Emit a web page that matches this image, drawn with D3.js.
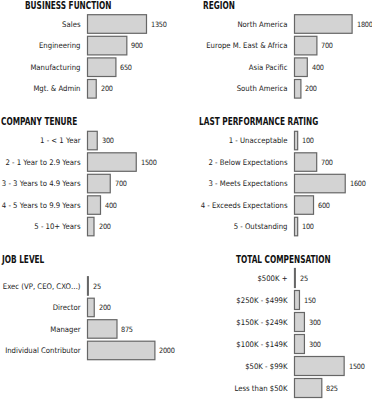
<!DOCTYPE html>
<html>
<head>
<meta charset="utf-8">
<script src="https://d3js.org/d3.v7.min.js"></script>
<style>
  body { margin: 0; background: #fff; }
  svg { display: block; }
  .title { font-family: "DejaVu Sans Condensed", "DejaVu Sans", sans-serif; font-stretch: condensed; font-weight: bold; font-size: 10px; fill: #111; }
  .cat { font-family: "DejaVu Sans Condensed", "DejaVu Sans", sans-serif; font-stretch: condensed; font-size: 7.7px; fill: #222; }
  .val { font-family: "DejaVu Sans Condensed", "DejaVu Sans", sans-serif; font-stretch: condensed; font-size: 7.3px; letter-spacing: -0.3px; fill: #222; -webkit-font-smoothing: antialiased; }
  .bar { fill: #d3d3d3; stroke: #666; stroke-width: 1.2; }
</style>
</head>
<body>
<svg width="372" height="400"></svg>
<script>
// ---- data ----
const businessLabels = ["Sales", "Engineering", "Manufacturing", "Mgt. & Admin"];
const businessValues = [1350, 900, 650, 200];

const regionLabels = ["North America", "Europe M. East & Africa", "Asia Pacific", "South America"];
const regionValues = [1800, 700, 400, 200];

const tenureLabels = ["1 - < 1 Year", "2 - 1 Year to 2.9 Years", "3 - 3 Years to 4.9 Years", "4 - 5 Years to 9.9 Years", "5 - 10+ Years"];
const tenureValues = [300, 1500, 700, 400, 200];

const ratingLabels = ["1 - Unacceptable", "2 - Below Expectations", "3 - Meets Expectations", "4 - Exceeds Expectations", "5 - Outstanding"];
const ratingValues = [100, 700, 1600, 600, 100];

const jobLabels = ["Exec (VP, CEO, CXO\u2026)", "Director", "Manager", "Individual Contributor"];
const jobValues = [25, 200, 875, 2000];

const compLabels = ["$500K +", "$250K - $499K", "$150K - $249K", "$100K - $149K", "$50K - $99K", "Less than $50K"];
const compValues = [25, 150, 300, 300, 1500, 825];

// ---- layout: one entry per small chart ----
const panels = [
  { title: "BUSINESS FUNCTION", labels: businessLabels, values: businessValues,
    tx: 25, ty: 8.5, x0: 87.5, top: 14.7, step: 21.6, w2000: 87.4 },
  { title: "REGION", labels: regionLabels, values: regionValues,
    tx: 203, ty: 8.5, x0: 294.5, top: 14.7, step: 21.6, w2000: 64 },
  { title: "COMPANY TENURE", labels: tenureLabels, values: tenureValues,
    tx: 1, ty: 125, x0: 87.5, top: 131.3, step: 21.5, w2000: 65 },
  { title: "LAST PERFORMANCE RATING", labels: ratingLabels, values: ratingValues,
    tx: 199, ty: 125, x0: 294.5, top: 131.3, step: 21.5, w2000: 63.4 },
  { title: "JOB LEVEL", labels: jobLabels, values: jobValues,
    tx: 2, ty: 263, x0: 87.5, top: 276.7, step: 21.5, w2000: 67.4 },
  { title: "TOTAL COMPENSATION", labels: compLabels, values: compValues,
    tx: 236, ty: 263, x0: 294.5, top: 268.5, step: 22, w2000: 66.2 }
];

const svg = d3.select("svg");
const gap = 3;
const titleSqueeze = 0.82; // reference titles use a very narrow bold face

panels.forEach(function(p) {
  const g = svg.append("g");
  const rows = p.labels.map(function(l, i) { return { label: l, value: p.values[i] }; });

  const x = d3.scaleLinear().domain([0, 2000]).range([p.x0, p.x0 + p.w2000]);
  const y = d3.scaleBand()
      .domain(p.labels)
      .range([p.top, p.top + p.labels.length * p.step - gap])
      .paddingInner(gap / p.step)
      .paddingOuter(0);

  g.append("text")
      .attr("class", "title")
      .attr("transform", "translate(" + p.tx + "," + p.ty + ") scale(" + titleSqueeze + ",1)")
      .text(p.title);

  g.selectAll("rect")
    .data(rows)
    .enter().append("rect")
      .attr("class", "bar")
      .attr("x", x(0))
      .attr("y", function(d) { return y(d.label); })
      .attr("width", function(d) { return Math.max(0.2, x(d.value) - x(0)); })
      .attr("height", y.bandwidth());

  g.selectAll("text.cat")
    .data(rows)
    .enter().append("text")
      .attr("class", "cat")
      .attr("x", x(0) - 7)
      .attr("y", function(d) { return y(d.label) + y.bandwidth() / 2; })
      .attr("dy", "0.35em")
      .attr("text-anchor", "end")
      .text(function(d) { return d.label; });

  g.selectAll("text.val")
    .data(rows)
    .enter().append("text")
      .attr("class", "val")
      .attr("x", function(d) { return Math.round(x(d.value) + 4.5); })
      .attr("y", function(d) { return y(d.label) + y.bandwidth() / 2; })
      .attr("dy", "0.35em")
      .text(function(d) { return d.value; });
});
</script>
</body>
</html>
